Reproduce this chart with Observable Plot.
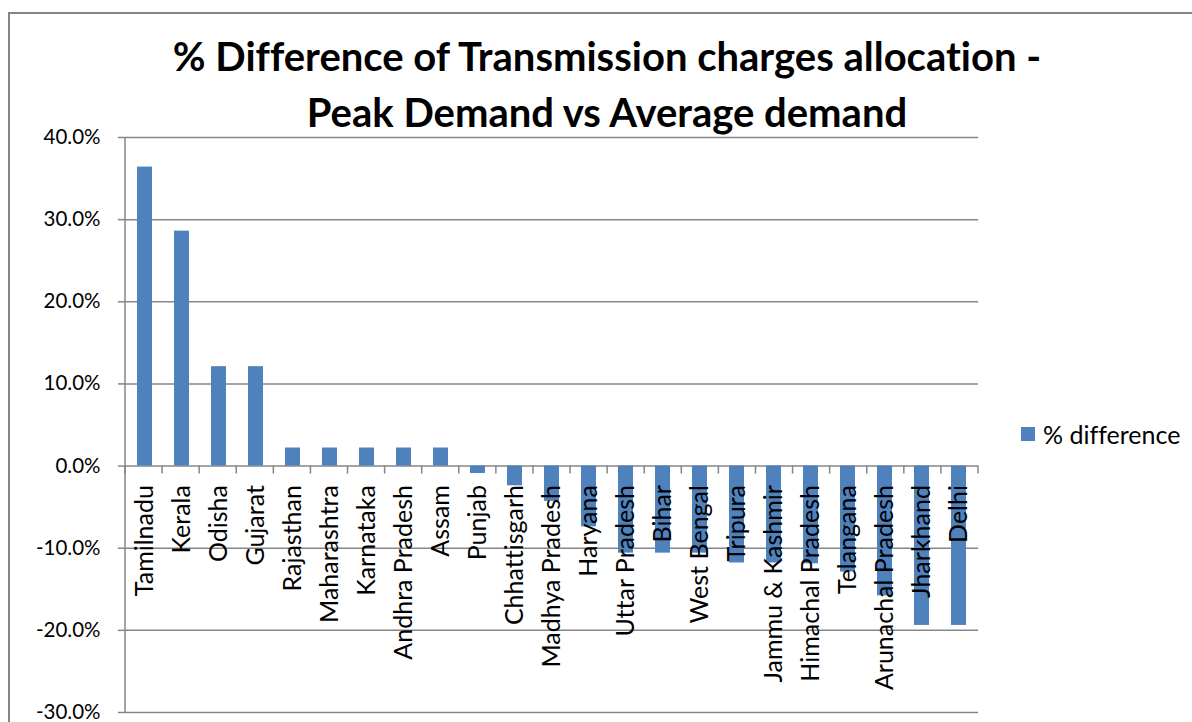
<!DOCTYPE html>
<html><head><meta charset="utf-8">
<script src="https://cdn.jsdelivr.net/npm/d3@7"></script>
<script src="https://cdn.jsdelivr.net/npm/@observablehq/plot@0.6"></script>
<style>
body{margin:0;background:#fff;}
#wrap{position:relative;width:1192px;height:722px;overflow:hidden;font-family:Lato,sans-serif;background:#fff;font-variant-ligatures:none;}
#border{position:absolute;left:8px;top:12px;width:1200px;height:800px;border:2px solid #868686;box-sizing:border-box;}
#title{position:absolute;left:0;width:1214px;top:28px;text-align:center;font-weight:bold;font-size:40px;line-height:56px;color:#000;white-space:nowrap;}
#chart{position:absolute;left:0;top:128px;}
#chart svg text{font-variant-ligatures:none;}
#legend{position:absolute;left:1021px;top:419px;font-size:25px;line-height:30px;color:#000;white-space:nowrap;display:flex;align-items:center;}
#legend .sw{display:inline-block;width:14px;height:14px;background:#4f81bd;margin-right:8px;}
</style></head><body>
<div id="wrap">
  <div id="border"></div>
  <div id="title">% Difference of Transmission charges allocation -<br>Peak Demand vs Average demand</div>
  <div id="chart"></div>
  <div id="legend"></div>
</div>
<script>
const states = ["Tamilnadu","Kerala","Odisha","Gujarat","Rajasthan","Maharashtra","Karnataka","Andhra Pradesh","Assam","Punjab","Chhattisgarh","Madhya Pradesh","Haryana","Uttar Pradesh","Bihar","West Bengal","Tripura","Jammu & Kashmir","Himachal Pradesh","Telangana","Arunachal Pradesh","Jharkhand","Delhi"];
const pctDifference = [0.364, 0.286, 0.121, 0.121, 0.022, 0.022, 0.022, 0.022, 0.022, -0.009, -0.024, -0.043, -0.074, -0.106, -0.106, -0.106, -0.118, -0.118, -0.119, -0.129, -0.158, -0.194, -0.194];
const yTicks = [-0.3, -0.2, -0.1, 0, 0.1, 0.2, 0.3, 0.4];
const seriesName = "% difference";
const barColor = "#4f81bd";

const data = states.map((s, i) => ({state: s, value: pctDifference[i]}));
const fmt = d => (d * 100).toFixed(1) + "%";

function excelAxes(index, scales, values, dimensions) {
  const {width, height, marginLeft, marginRight, marginTop, marginBottom} = dimensions;
  const g = d3.create("svg:g").attr("stroke", "#868686").attr("stroke-width", 1.5);
  const step = (width - marginLeft - marginRight) / states.length;
  const y0 = scales.y(0);
  for (let i = 0; i <= states.length; i++) {
    const x = marginLeft + i * step;
    g.append("line").attr("x1", x).attr("x2", x).attr("y1", y0).attr("y2", y0 + 8);
  }
  g.append("line").attr("x1", marginLeft).attr("x2", marginLeft)
    .attr("y1", marginTop).attr("y2", height - marginBottom);
  return g.node();
}

const chart = Plot.plot({
  width: 1192,
  height: 594,
  marginLeft: 125,
  marginRight: 214,
  marginTop: 9,
  marginBottom: 10,
  style: {fontFamily: "Lato, sans-serif", fontSize: "20px", color: "#000", background: "transparent", overflow: "visible"},
  x: {domain: states, paddingInner: 0.596, paddingOuter: 0.298, axis: null},
  y: {domain: [-0.3, 0.4], axis: null},
  marks: [
    Plot.gridY(yTicks, {stroke: "#868686", strokeOpacity: 1, strokeWidth: 1.5}),
    Plot.barY(data, {x: "state", y: "value", fill: barColor}),
    Plot.axisY(yTicks, {tickFormat: fmt, tickSize: 7, tickPadding: 18, fontSize: 20.5, stroke: "#868686", strokeWidth: 1.5, fill: "#000", label: null}),
    excelAxes,
    Plot.text(states, {x: d => d, y: () => 0, text: d => d, rotate: -90, textAnchor: "end", lineAnchor: "middle", dy: 19, fontSize: 25, fill: "#000"})
  ]
});
document.getElementById("chart").appendChild(chart);

const lg = document.getElementById("legend");
lg.innerHTML = `<span class="sw"></span><span>${seriesName}</span>`;
</script>
</body></html>
